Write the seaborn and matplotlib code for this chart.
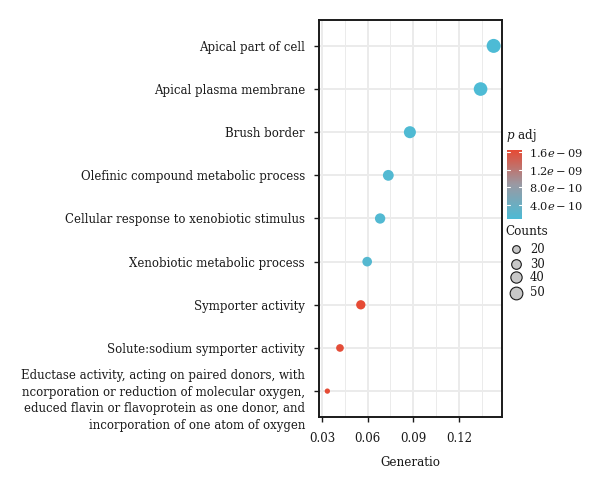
import numpy as np
import pandas as pd
import matplotlib
matplotlib.use("Agg")
import matplotlib.pyplot as plt
from matplotlib.colors import LinearSegmentedColormap, Normalize
from matplotlib.transforms import ScaledTranslation
import seaborn as sns

terms = [
    "Apical part of cell",
    "Apical plasma membrane",
    "Brush border",
    "Olefinic compound metabolic process",
    "Cellular response to xenobiotic stimulus",
    "Xenobiotic metabolic process",
    "Symporter activity",
    "Solute:sodium symporter activity",
    "Eductase activity, acting on paired donors, with\nncorporation or reduction of molecular oxygen,\neduced flavin or flavoprotein as one donor, and\nincorporation of one atom of oxygen",
]
gene_ratio = [0.1429, 0.1343, 0.0878, 0.0736, 0.0682, 0.0597, 0.0555, 0.0418, 0.0335]
counts = [60, 57, 45, 37, 34, 30, 28, 20, 11]
p_adj = [0.9e-10, 1.0e-10, 1.2e-10, 1.4e-10, 1.5e-10, 1.7e-10, 1.64e-9, 1.62e-9, 1.63e-9]

x_ticks = [0.03, 0.06, 0.09, 0.12]
cbar_ticks = [4.0e-10, 8.0e-10, 1.2e-9, 1.6e-9]
cbar_labels = [r"$4.0e-10$", r"$8.0e-10$", r"$1.2e-09$", r"$1.6e-09$"]
size_legend = [20, 30, 40, 50]

df = pd.DataFrame({"term": terms, "ratio": gene_ratio, "count": counts, "padj": p_adj})

sns.set_theme(style="white")
FONT = "DejaVu Serif"
plt.rcParams["font.family"] = [FONT]
plt.rcParams["mathtext.fontset"] = "dejavuserif"

cmap = LinearSegmentedColormap.from_list("npg", ["#4DBBD5", "#9a9aa4", "#E64B35"])
pmin, pmax = 0.9e-10, 1.64e-9
norm = Normalize(vmin=pmin, vmax=pmax)
SMIN, SMAX = 14.6, 101.6

fig = plt.figure(figsize=(6.0, 4.83), dpi=100)
ax = fig.add_axes([319/600, 1-417/483, (502-319)/600, (417-20)/483])

sns.scatterplot(data=df, x="ratio", y="term", hue="padj", hue_norm=norm, palette=cmap,
                size="count", sizes=(SMIN, SMAX), linewidth=0, legend=False, ax=ax, zorder=3)

ax.set_ylim(len(terms) - 0.4, -0.6)
ax.set_xlim(0.028, 0.1484)
ax.set_xticks(x_ticks)
ax.set_xticklabels([f"{t:.2f}" for t in x_ticks])
ax.set_xticks([0.045, 0.075, 0.105, 0.135], minor=True)
ax.grid(True, which="major", color="#EBEBEB", linewidth=1.4, zorder=0)
ax.grid(True, which="minor", axis="x", color="#EBEBEB", linewidth=0.7, zorder=0)
ax.set_axisbelow(True)
for s in ax.spines.values():
    s.set_color("#1a1a1a")
    s.set_linewidth(1.4)
ax.tick_params(axis="both", which="major", length=3.5, width=1.0, color="#1a1a1a",
               labelsize=8.5, labelcolor="#1a1a1a", bottom=True, left=True)
ax.tick_params(axis="y", pad=6.5)
ax.tick_params(axis="x", pad=7)
ax.tick_params(axis="x", which="minor", length=0)
ylabs = ax.get_yticklabels()
for lab in ylabs:
    lab.set_linespacing(1.35)
ylabs[-1].set_transform(ylabs[-1].get_transform() + ScaledTranslation(0, -0.06, fig.dpi_scale_trans))
ax.set_xlabel("Generatio", fontsize=8.6, color="#1a1a1a", labelpad=8)
ax.set_ylabel("")

# colour bar
cax = fig.add_axes([507/600, 1-219/483, 15/600, 69/483])
grad = np.linspace(pmin, pmax, 200).reshape(-1, 1)
cax.imshow(grad, aspect="auto", cmap=cmap, norm=norm, origin="lower",
           extent=[0, 1, pmin, pmax])
cax.set_xticks([])
cax.set_yticks(cbar_ticks)
cax.set_yticklabels(cbar_labels)
cax.yaxis.tick_right()
cax.tick_params(axis="y", length=0, labelsize=8.2, pad=5, labelcolor="#1a1a1a")
for t in cbar_ticks:
    cax.plot([0, 0.2], [t, t], color="white", lw=0.8)
    cax.plot([0.8, 1], [t, t], color="white", lw=0.8)
cax.set_xlim(0, 1)
cax.set_ylim(pmin, pmax)
for s in cax.spines.values():
    s.set_visible(False)

fig.text(506/600, 1-135/483, r"$p$ adj", fontsize=8.6, va="center", ha="left", color="#1a1a1a")
fig.text(505/600, 1-232/483, "Counts", fontsize=8.6, va="center", ha="left", color="#1a1a1a")

# size legend
lax = fig.add_axes([0, 0, 1, 1])
lax.set_xlim(0, 600)
lax.set_ylim(483, 0)
lax.axis("off")
cmin, cmax = min(counts), max(counts)
ys = [249.3, 264, 277.3, 292.7]
for c, yy in zip(size_legend, ys):
    s = SMIN + (c - cmin) / (cmax - cmin) * (SMAX - SMIN)
    lax.scatter([515.7], [yy], s=s, color="#C8C8C8", edgecolor="#1a1a1a", linewidth=0.8)
    lax.text(530, yy, str(c), fontsize=8.4, va="center", ha="left", color="#1a1a1a")

fig.savefig("out.png", dpi=100)
